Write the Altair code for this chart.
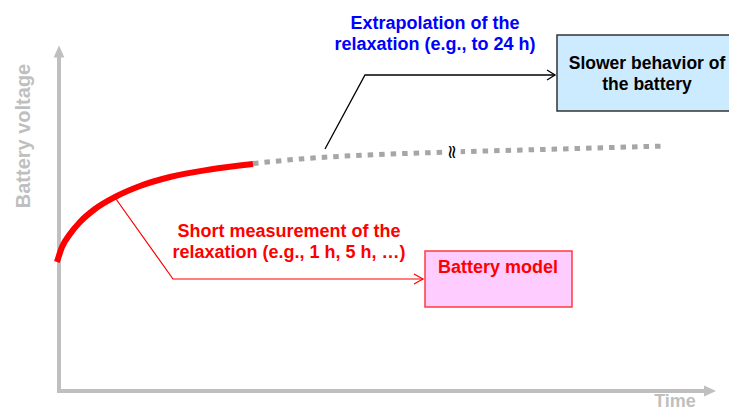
import altair as alt
import pandas as pd

# ---- data (diagram units: x = time position, y = screen-down position) ----
# measured relaxation curve (red)
CURVE_T = [57.0, 62.0, 70.0, 80.0, 95.0, 115.0, 140.0, 170.0, 210.0, 253.0]
CURVE_V = [262.0, 247.0, 234.0, 222.0, 209.0, 197.0, 186.0, 177.0, 169.5, 164.0]
# extrapolated relaxation (grey dotted)
EXTRAP_T = [253.0, 300.0, 367.0, 452.0, 560.0, 665.0]
EXTRAP_V = [163.5, 159.0, 155.0, 152.0, 149.0, 146.0]
BREAK_T, BREAK_V = [452.0], [152.0]

# axes (arrows)
YAXIS_T, YAXIS_V = [59, 59], [393, 57]
XAXIS_T, XAXIS_V = [57, 705], [391, 391]
YHEAD_T, YHEAD_V = [59], [51.5]
XHEAD_T, XHEAD_V = [710], [391]

# leader lines
BLACK_LEAD_T, BLACK_LEAD_V = [325, 365, 555], [149, 75, 75]
BLACK_HEAD_T, BLACK_HEAD_V = [547, 555, 547], [70, 75, 80]
RED_LEAD_T, RED_LEAD_V = [116, 173, 423], [199, 279, 279]
RED_HEAD_T, RED_HEAD_V = [414, 423, 414], [274, 279, 284]

# boxes
BOX_LABELS = ["Slower behavior", "Battery model"]
BOX_X1, BOX_X2 = [557, 425], [740, 572]
BOX_Y1, BOX_Y2 = [35, 251], [111, 307]
BOX_FILL = ["#cdebff", "#ffccff"]
BOX_STROKE = ["#333333", "#ff3b3b"]

# texts
BLUE_TEXT = ["Extrapolation of the", "relaxation (e.g., to 24 h)"]
BLUE_T, BLUE_V = [435, 435], [29, 50]
RED_TEXT = ["Short measurement of the", "relaxation (e.g., 1 h, 5 h, \u2026)"]
RED_T, RED_V = [289, 289], [237, 258]
BLACK_TEXT = ["Slower behavior of", "the battery"]
BLACK_T, BLACK_V = [647, 647], [69, 90]
MODEL_TEXT, MODEL_T, MODEL_V = ["Battery model"], [498], [273]
XLABEL, XLABEL_T, XLABEL_V = ["Time"], [675], [406.5]
YLABEL, YLABEL_T, YLABEL_V = ["Battery voltage"], [30], [136]

FONT = "Liberation Sans"
GREY = "#bfbfbf"

XS = alt.Scale(domain=[8, 729], nice=False, zero=False)
YS = alt.Scale(domain=[8, 409], reverse=True, nice=False, zero=False)


def enc_xy():
    return dict(x=alt.X("x:Q", scale=XS, axis=None), y=alt.Y("y:Q", scale=YS, axis=None))


def line(xs, ys, **kw):
    df = pd.DataFrame({"x": xs, "y": ys, "i": list(range(len(xs)))})
    return alt.Chart(df).mark_line(**kw).encode(order="i:Q", **enc_xy())


def text(labels, xs, ys, color, size=18, **kw):
    df = pd.DataFrame({"x": xs, "y": ys, "t": labels})
    return alt.Chart(df).mark_text(
        font=FONT, fontWeight="bold", fontSize=size, color=color,
        align="center", baseline="alphabetic", **kw
    ).encode(text="t:N", **enc_xy())


def point(xs, ys, shape, size, color, **kw):
    df = pd.DataFrame({"x": xs, "y": ys})
    return alt.Chart(df).mark_point(
        shape=shape, size=size, filled=True, fill=color, color=color, opacity=1, strokeWidth=0, **kw
    ).encode(**enc_xy())


boxes_df = pd.DataFrame({"x": BOX_X1, "x2": BOX_X2, "y": BOX_Y1, "y2": BOX_Y2,
                         "b": BOX_LABELS, "fill": BOX_FILL, "stroke": BOX_STROKE})
boxes = alt.Chart(boxes_df).mark_rect(strokeWidth=1.5, clip=True).encode(
    x=alt.X("x:Q", scale=XS, axis=None), x2="x2:Q",
    y=alt.Y("y:Q", scale=YS, axis=None), y2="y2:Q",
    fill=alt.Fill("fill:N", scale=None), stroke=alt.Stroke("stroke:N", scale=None),
)

layers = [
    # axes
    line(YAXIS_T, YAXIS_V, color=GREY, strokeWidth=4, strokeCap="butt"),
    line(XAXIS_T, XAXIS_V, color=GREY, strokeWidth=4, strokeCap="butt"),
    point(YHEAD_T, YHEAD_V, "M0,-1L0.9,1L-0.9,1Z", 144, GREY),
    point(XHEAD_T, XHEAD_V, "M1,0L-1,-0.9L-1,0.9Z", 144, GREY),
    # boxes
    boxes,
    # extrapolation
    line(EXTRAP_T, EXTRAP_V, color="#a6a6a6", strokeWidth=5, strokeDash=[5.5, 6],
         strokeCap="butt", interpolate="monotone"),
    point(BREAK_T, BREAK_V, "square", 300, "white"),
    alt.Chart(pd.DataFrame({"x": BREAK_T, "y": BREAK_V, "t": ["\u2248"]})).mark_text(
        font="DejaVu Sans", fontSize=19, color="black", angle=90,
        align="center", baseline="middle").encode(text="t:N", **enc_xy()),
    # measured curve
    line(CURVE_T, CURVE_V, color="#ff0000", strokeWidth=6, strokeCap="butt", interpolate="monotone"),
    # leaders
    line(BLACK_LEAD_T, BLACK_LEAD_V, color="black", strokeWidth=1.3),
    line(BLACK_HEAD_T, BLACK_HEAD_V, color="black", strokeWidth=1.3),
    line(RED_LEAD_T, RED_LEAD_V, color="#ff0000", strokeWidth=1.2),
    line(RED_HEAD_T, RED_HEAD_V, color="#ff0000", strokeWidth=1.2),
    # texts
    text(BLUE_TEXT, BLUE_T, BLUE_V, "#0000ff"),
    text(RED_TEXT, RED_T, RED_V, "#ff0000"),
    text(BLACK_TEXT, BLACK_T, BLACK_V, "#000000", size=17.5),
    text(MODEL_TEXT, MODEL_T, MODEL_V, "#ff0000"),
    text(XLABEL, XLABEL_T, XLABEL_V, GREY, size=18),
    text(YLABEL, YLABEL_T, YLABEL_V, GREY, size=20, angle=270),
]

chart = alt.layer(*layers).properties(
    width=721, height=401, padding=0,
    autosize=alt.AutoSizeParams(type="none"),
    background="white",
).configure_view(stroke=None)

chart.save("out.html", embed_options={"renderer": "svg", "actions": False})
